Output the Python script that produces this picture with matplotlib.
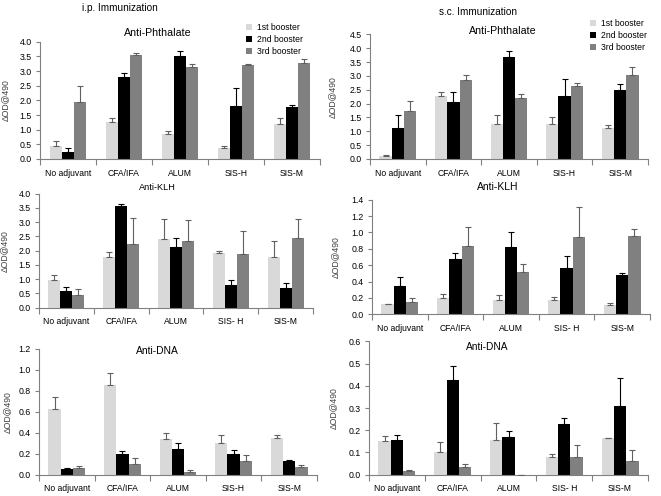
import numpy as np
import matplotlib
matplotlib.use("Agg")
import matplotlib.pyplot as plt
from matplotlib.patches import Patch

W, H = 661, 496

boosters = ["1st booster", "2nd booster", "3rd booster"]
cats_a = ["No adjuvant", "CFA/IFA", "ALUM", "SIS-H", "SIS-M"]
cats_b = ["No adjuvant", "CFA/IFA", "ALUM", "SIS- H", "SIS-M"]

# i.p. Anti-Phthalate
ip_pht = [[0.45, 1.25, 0.85, 0.37, 1.18],
          [0.25, 2.80, 3.50, 1.82, 1.76],
          [1.93, 3.53, 3.15, 3.20, 3.27]]
ip_pht_err = [[0.15, 0.15, 0.12, 0.08, 0.22],
              [0.13, 0.12, 0.17, 0.60, 0.08],
              [0.57, 0.07, 0.10, 0.03, 0.13]]
# s.c. Anti-Phthalate
sc_pht = [[0.10, 2.27, 1.25, 1.28, 1.13],
          [1.13, 2.04, 3.68, 2.27, 2.49],
          [1.73, 2.84, 2.20, 2.62, 3.02]]
sc_pht_err = [[0.05, 0.13, 0.32, 0.22, 0.09],
              [0.44, 0.36, 0.20, 0.61, 0.20],
              [0.35, 0.18, 0.14, 0.14, 0.30]]
# i.p. Anti-KLH
ip_klh = [[0.98, 1.77, 2.40, 1.93, 1.78],
          [0.57, 3.57, 2.13, 0.80, 0.70],
          [0.43, 2.25, 2.33, 1.90, 2.45]]
ip_klh_err = [[0.17, 0.20, 0.70, 0.07, 0.57],
              [0.15, 0.06, 0.32, 0.18, 0.17],
              [0.24, 0.90, 0.75, 0.80, 0.65]]
# s.c. Anti-KLH
sc_klh = [[0.12, 0.20, 0.18, 0.18, 0.11],
          [0.35, 0.68, 0.82, 0.56, 0.48],
          [0.15, 0.84, 0.52, 0.94, 0.96]]
sc_klh_err = [[0.01, 0.05, 0.06, 0.03, 0.03],
              [0.11, 0.07, 0.18, 0.15, 0.02],
              [0.05, 0.23, 0.09, 0.37, 0.08]]
# i.p. Anti-DNA
ip_dna = [[0.63, 0.86, 0.34, 0.30, 0.355],
          [0.05, 0.20, 0.25, 0.20, 0.135],
          [0.06, 0.10, 0.03, 0.135, 0.07]]
ip_dna_err = [[0.11, 0.11, 0.06, 0.08, 0.025],
              [0.01, 0.03, 0.055, 0.035, 0.005],
              [0.025, 0.055, 0.015, 0.055, 0.025]]
# s.c. Anti-DNA
sc_dna = [[0.150, 0.103, 0.155, 0.078, 0.163],
          [0.157, 0.428, 0.168, 0.230, 0.310],
          [0.017, 0.035, -0.002, 0.078, 0.062]]
sc_dna_err = [[0.025, 0.045, 0.078, 0.017, 0.003],
              [0.023, 0.062, 0.030, 0.027, 0.127],
              [0.002, 0.015, 0.002, 0.057, 0.051]]

colors = ["#d9d9d9", "#000000", "#808080"]
err_colors = ["#606060", "#000000", "#606060"]

plt.rcParams["font.family"] = ["Liberation Sans", "DejaVu Sans"]
fig = plt.figure(figsize=(W / 100, H / 100), dpi=100)


def px_axes(x0, x1, ytop, ybot):
    return fig.add_axes([x0 / W, 1 - ybot / H, (x1 - x0) / W, (ybot - ytop) / H])


def panel(box, vals, errs, cats, ymax, step, title, tpos, tsize, ylab_x):
    x0, x1, ytop, ybot = box
    ax = px_axes(x0, x1, ytop, ybot)
    x = np.arange(len(cats))
    w = 0.22
    for i in range(3):
        pos = x + (i - 1) * w
        ax.bar(pos, vals[i], width=w, color=colors[i], edgecolor="none", zorder=2)
        ax.errorbar(pos, vals[i], yerr=[np.zeros(len(cats)), errs[i]], fmt="none",
                    ecolor=err_colors[i], elinewidth=0.8, capsize=2.5, capthick=0.8, zorder=3)
    ax.set_xlim(-0.5, len(cats) - 0.5)
    ax.set_ylim(0, ymax)
    ax.set_yticks(np.arange(0, ymax + step / 2, step))
    ax.yaxis.set_major_formatter(matplotlib.ticker.FormatStrFormatter("%.1f"))
    ax.set_xticks(np.arange(len(cats) + 1) - 0.5)
    ax.set_xticklabels([])
    ax.set_xticks(x, minor=True)
    ax.set_xticklabels(cats, minor=True)
    ax.tick_params(axis="x", which="major", length=4, color="#808080", width=0.8)
    ax.tick_params(axis="x", which="minor", length=0, pad=7, labelsize=6.2)
    ax.tick_params(axis="y", length=3, color="#808080", width=0.8, labelsize=6.3, pad=3)
    for s in ("top", "right"):
        ax.spines[s].set_visible(False)
    for s in ("left", "bottom"):
        ax.spines[s].set_color("#808080")
        ax.spines[s].set_linewidth(0.8)
    ax.set_ylabel("\u0394OD@490", fontsize=6.2, color="#404040")
    ax.yaxis.set_label_coords((ylab_x - x0) / (x1 - x0), 0.5)
    fig.text(tpos[0] / W, 1 - tpos[1] / H, title, fontsize=tsize, ha="center", va="center")
    return ax


panel((40, 320, 41.7, 159), ip_pht, ip_pht_err, cats_a, 4.0, 0.5,
      "Anti-Phthalate", (158, 33), 7.7, 10)
panel((370, 648, 34.3, 159), sc_pht, sc_pht_err, cats_a, 4.5, 0.5,
      "Anti-Phthalate", (503, 31), 7.7, 337)
panel((39, 313, 193.7, 307.7), ip_klh, ip_klh_err, cats_b, 4.0, 0.5,
      "Anti-KLH", (157, 187), 6.6, 9)
panel((372, 650, 199.7, 314.3), sc_klh, sc_klh_err, cats_b, 1.4, 0.2,
      "Anti-KLH", (498, 187), 7.5, 340)
panel((39, 317, 349, 474.7), ip_dna, ip_dna_err, cats_a, 1.2, 0.2,
      "Anti-DNA", (157, 351), 7.4, 12)
panel((369, 648, 341.3, 474.7), sc_dna, sc_dna_err, cats_b, 0.6, 0.1,
      "Anti-DNA", (487, 347), 7.3, 338)

fig.text(120 / W, 1 - 8 / H, "i.p. Immunization", fontsize=7.2, ha="center", va="center")
fig.text(478 / W, 1 - 12 / H, "s.c. Immunization", fontsize=7.2, ha="center", va="center")

handles = [Patch(facecolor=c, edgecolor="none") for c in colors]
for (lx, ly) in [(246, 23), (590, 19)]:
    fig.legend(handles, boosters, loc="upper left", bbox_to_anchor=(lx / W, 1 - ly / H),
               frameon=False, fontsize=6.2, handlelength=0.7, handleheight=0.7,
               handletextpad=0.6, labelspacing=0.35, borderpad=0, borderaxespad=0)

fig.savefig("out.png", dpi=100)
